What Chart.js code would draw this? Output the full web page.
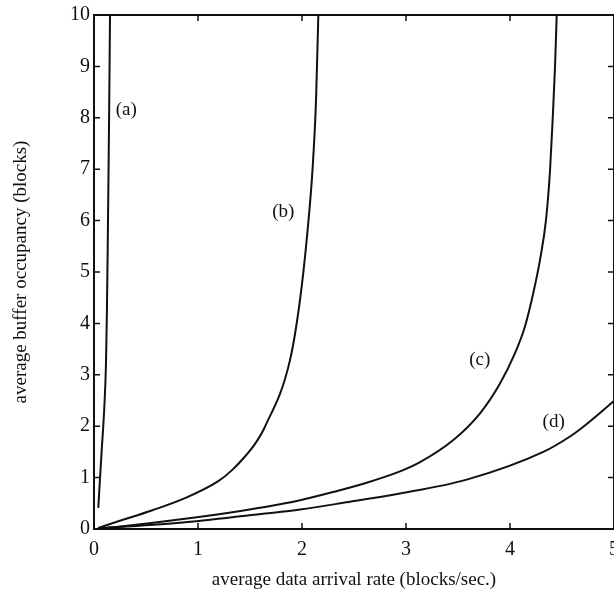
<!DOCTYPE html>
<html>
<head>
<meta charset="utf-8">
<script src="https://cdn.jsdelivr.net/npm/chart.js@4"></script>
<style>
  html, body { margin: 0; padding: 0; background: #fff; }
  #box { width: 614px; height: 603px; }
</style>
</head>
<body>
<div id="box"><canvas id="c"></canvas></div>
<script>
// curves (x: blocks/sec, y: blocks)
var aX = [0.041, 0.073, 0.100, 0.115, 0.124, 0.132, 0.140, 0.146, 0.154];
var aY = [0.41, 1.5, 2.4, 3.2, 4.2, 5.5, 7.0, 8.2, 10];
var bX = [0.04, 0.234, 0.555, 0.875, 1.195, 1.33, 1.452, 1.55, 1.644, 1.885, 1.981, 2.051, 2.103, 2.135, 2.157];
var bY = [0.02, 0.15, 0.36, 0.60, 0.93, 1.15, 1.41, 1.66, 1.99, 3.29, 4.46, 5.75, 7.05, 8.35, 10];
var cX = [0.04, 0.234, 0.875, 1.644, 1.981, 2.3, 2.622, 2.942, 3.135, 3.455, 3.712, 3.904, 4.048, 4.144, 4.224, 4.288, 4.346, 4.385, 4.41, 4.433, 4.449];
var cY = [0.01, 0.045, 0.2, 0.43, 0.56, 0.72, 0.90, 1.12, 1.30, 1.73, 2.25, 2.83, 3.42, 3.94, 4.59, 5.23, 6.01, 6.98, 7.96, 9.0, 10];
var dX = [0.04, 0.875, 1.644, 1.981, 2.4, 2.942, 3.584, 4.32, 4.577, 4.705, 5.0];
var dY = [0.01, 0.13, 0.30, 0.38, 0.51, 0.69, 0.96, 1.50, 1.80, 1.99, 2.49];

var curveNames = ['(a)', '(b)', '(c)', '(d)'];
var nameX = [0.31, 1.82, 3.71, 4.42];
var nameY = [8.15, 6.17, 3.29, 2.09];

var xTicks = [0, 1, 2, 3, 4, 5];
var yTicks = [0, 1, 2, 3, 4, 5, 6, 7, 8, 9, 10];

var ink = '#111';
var serif = '"Liberation Serif", "DejaVu Serif", serif';

function pts(xs, ys){
    return xs.map(function(x, i){ return {x: x, y: ys[i]}; });
}
function line(xs, ys){
    return {
        data: pts(xs, ys),
        showLine: true,
        borderColor: ink,
        borderWidth: 2,
        pointRadius: 0,
        cubicInterpolationMode: 'monotone',
        fill: false
    };
}

var frame = {
    id: 'frame',
    afterDatasetsDraw: function(chart){
        var ctx = chart.ctx, a = chart.chartArea;
        var xs = chart.scales.x, ys = chart.scales.y;
        ctx.save();
        ctx.strokeStyle = ink;
        ctx.lineWidth = 2;
        ctx.strokeRect(a.left, a.top, a.right - a.left, a.bottom - a.top);
        ctx.lineWidth = 1.5;
        ctx.beginPath();
        yTicks.forEach(function(v){
            var p = ys.getPixelForValue(v);
            ctx.moveTo(a.left, p); ctx.lineTo(a.left + 6, p);
            ctx.moveTo(a.right, p); ctx.lineTo(a.right - 6, p);
        });
        xTicks.forEach(function(v){
            var p = xs.getPixelForValue(v);
            ctx.moveTo(p, a.bottom); ctx.lineTo(p, a.bottom - 6);
            ctx.moveTo(p, a.top); ctx.lineTo(p, a.top + 6);
        });
        ctx.stroke();
        ctx.fillStyle = ink;
        ctx.font = '19px ' + serif;
        ctx.textAlign = 'center';
        ctx.textBaseline = 'middle';
        curveNames.forEach(function(t, i){
            ctx.fillText(t, xs.getPixelForValue(nameX[i]), ys.getPixelForValue(nameY[i]));
        });
        ctx.restore();
    }
};

new Chart(document.getElementById('c'), {
    type: 'scatter',
    data: {
        datasets: [line(aX, aY), line(bX, bY), line(cX, cY), line(dX, dY)]
    },
    options: {
        responsive: true,
        maintainAspectRatio: false,
        animation: false,
        layout: {padding: {top: 15, right: 0, left: 0, bottom: 0}},
        plugins: {legend: {display: false}, tooltip: {enabled: false}},
        scales: {
            x: {
                type: 'linear', min: 0, max: 5,
                afterBuildTicks: function(s){ s.ticks = xTicks.map(function(v){ return {value: v}; }); },
                afterFit: function(s){ s.height = 74; s.paddingLeft = 0; s.paddingRight = 0; },
                grid: {display: false, drawTicks: false},
                border: {display: false},
                ticks: {color: ink, padding: 9, font: {family: serif, size: 20}, maxRotation: 0},
                title: {display: true, text: 'average data arrival rate (blocks/sec.)', color: ink,
                        font: {family: serif, size: 19}, padding: {top: 0, bottom: 12}}
            },
            y: {
                type: 'linear', min: 0, max: 10,
                afterBuildTicks: function(s){ s.ticks = yTicks.map(function(v){ return {value: v}; }); },
                afterFit: function(s){ s.width = 94; s.paddingTop = 0; s.paddingBottom = 0; },
                grid: {display: false, drawTicks: false},
                border: {display: false},
                ticks: {color: ink, padding: 4, font: {family: serif, size: 20}},
                title: {display: true, text: 'average buffer occupancy (blocks)', color: ink,
                        font: {family: serif, size: 19}, padding: {top: 10, bottom: 0}}
            }
        }
    },
    plugins: [frame]
});
</script>
</body>
</html>
